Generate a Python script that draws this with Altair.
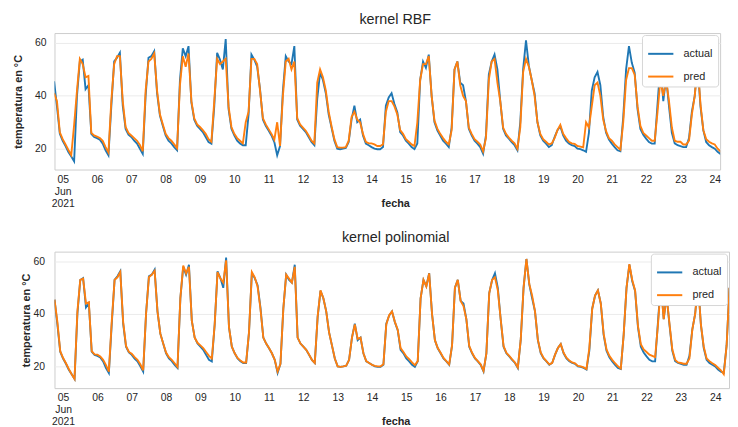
import altair as alt
import pandas as pd
from datetime import datetime, timezone, timedelta

# ---------------- data (every 2 hours from 2021-06-04 18:00 UTC) ----------------
ACTUAL = [
    45.5, 36, 25.6,                                                   # Jun 4 18-22h
    23, 21, 18.7, 17, 15.2, 40, 53, 53.7, 42.5, 44, 25.6, 24.4,        # Jun 5
    24, 23.4, 21.9, 19.4, 17.5, 36, 53, 54.4, 56.3, 36.3, 27.5, 25.3,  # Jun 6
    24.4, 23, 21.9, 20, 18, 40, 54.4, 55, 56.9, 41, 32.5, 28.7,        # Jun 7
    25, 23, 22, 20.6, 19.4, 46, 58, 55, 58.8, 37.5, 31, 28.7,          # Jun 8
    27.5, 26.3, 24.4, 22.5, 21.9, 36, 56.3, 53.7, 50, 61.5, 35, 27.5,  # Jun 9
    25, 23, 22, 21.3, 21.3, 33, 55.6, 53.7, 51, 42.5, 31, 28.7,        # Jun 10
    26.9, 25, 22.5, 17.5, 21, 42, 55, 53, 52, 58.8, 31, 28.7,          # Jun 11
    27.5, 26.3, 24.4, 22.5, 21.3, 38.8, 48.8, 46, 41, 33, 28, 23,      # Jun 12
    20, 19.8, 20, 20.3, 22.5, 31, 36.3, 30, 31, 25, 21.9, 21.3,        # Jun 13
    20.6, 20, 19.8, 19.8, 20.6, 36.3, 39.4, 41, 36.9, 33.8, 26.3, 25,  # Jun 14
    23, 21.9, 20.6, 19.8, 22, 46, 53, 50.6, 55.6, 40, 30, 26.9,        # Jun 15
    25, 23, 21.9, 20.6, 28, 50, 53, 45, 44, 38, 27.5, 25,              # Jun 16
    23, 21.9, 20.6, 18.1, 25, 48, 53, 55.6, 50, 38, 27.5, 25,          # Jun 17
    23.8, 22.5, 21.3, 19.4, 30, 50, 61, 51.3, 46, 41, 30, 25,          # Jun 18
    23, 21.9, 20.6, 21.3, 24.4, 27, 28.5, 25, 23, 22, 21.3, 21,        # Jun 19
    20, 19.8, 19.4, 18.8, 26, 42, 47, 49, 44, 32, 26, 23.5,            # Jun 20
    21.9, 20.6, 19.4, 19, 32, 50, 58.8, 52.5, 48.8, 35, 27.5, 25.3,    # Jun 21
    23.8, 22.5, 21.9, 21.9, 37, 52, 38, 47, 36, 26, 22, 21.3,          # Jun 22
    21, 20.6, 20.6, 24, 34, 40, 52, 36, 27, 22.5, 21.3, 20.6,          # Jun 23
    20, 18.8, 18, 17.5, 28, 50,                                        # Jun 24 0-10h
]

PRED_RBF = [
    41, 38, 26.2,
    23.6, 21.6, 19.5, 17.6, 29, 42, 54, 52, 47, 47.5, 26, 25,
    24.6, 24, 23, 20.6, 18.6, 38, 52, 55, 55, 38, 28.2, 26,
    25, 24, 23, 21.4, 19, 42, 53, 54, 56, 42, 33, 29.2,
    25.6, 24, 23, 21.6, 20.2, 44, 55, 51, 56, 38, 31.5, 29.2,
    28.2, 27, 25.6, 23.6, 22.6, 38, 54, 52, 53, 54, 36, 28.2,
    25.6, 24, 23, 22, 30, 34, 54, 54, 52, 42, 31.6, 29.2,
    27.4, 25.6, 23.4, 30, 21, 40, 53, 54, 50, 53, 31.6, 29.2,
    28, 26.8, 25, 23, 22, 45, 50, 47, 42, 34, 28.5, 23.6,
    20.6, 20.4, 20.4, 20.6, 23, 32, 34, 31, 30, 25.6, 22.6, 22,
    22, 21.6, 21, 21, 21.6, 34, 38, 38, 36, 33, 27, 25.6,
    23.6, 22.6, 21.6, 21, 30, 46, 52, 52, 55, 40, 30.6, 27.6,
    25.6, 24, 22.6, 21.6, 27, 50, 53, 44, 40, 38, 28, 25.6,
    23.6, 22.6, 21.6, 19, 24, 46, 53, 54, 45, 38, 28, 25.6,
    24.2, 23, 22, 20, 28, 49, 54, 51, 46, 40, 30, 25.6,
    23.6, 22.6, 21.6, 22, 24, 27, 29, 25.6, 24, 22.6, 22, 21.8,
    21, 20.8, 20.5, 30, 28, 36, 44, 45, 40, 31, 26.6, 24,
    23, 21.6, 20.6, 19.6, 30, 46, 50.5, 50.5, 48, 36, 28.6, 26,
    25, 24, 23, 23, 34, 46, 40, 46, 38, 28, 23, 22.6,
    22.6, 21.6, 21.6, 23, 33, 40, 52, 37, 27, 23.6, 22.6, 22,
    21.6, 20, 19, 18.6, 29, 45,
]

PRED_POLY = [
    45.5, 37, 25.8,
    23.2, 21.2, 19, 17, 15.2, 41, 53, 53.5, 44, 44.5, 25.8, 24.6,
    24.5, 23.8, 22.5, 20.5, 18, 37, 53, 54, 56, 37, 27.8, 25.5,
    24.8, 23.5, 22.5, 20.8, 18.5, 40, 54, 55, 56.5, 41, 32.5, 28.7,
    25.3, 23.5, 22.5, 21.2, 19.8, 46, 58.5, 55.5, 58, 37.5, 31, 29,
    28, 27, 25.5, 24, 23, 36, 56, 53.5, 52, 60.5, 35, 27.5,
    25, 23.2, 22.2, 21.5, 21.5, 33, 56, 54, 50.5, 42, 31, 28.7,
    27, 25, 22.5, 18, 21, 42, 55, 53.5, 52, 58, 31, 28.7,
    27.5, 26.3, 24.5, 22.5, 21.3, 39, 49, 46, 41, 33, 28, 23,
    20, 19.8, 20, 20.3, 22.5, 31, 36, 30.5, 31, 25, 22, 21.3,
    20.6, 20.2, 20, 20, 20.8, 36, 39.5, 41, 37, 34, 27, 25.5,
    23.8, 22.8, 21.5, 20.5, 22, 46, 53, 50.5, 55.5, 40, 30, 27,
    25.2, 23.2, 22, 20.8, 28, 50, 53, 45, 43, 38, 27.8, 25.2,
    23.2, 22, 20.8, 18.3, 25, 48, 53, 54, 49, 38, 27.8, 25.2,
    24, 22.7, 21.5, 19.6, 30, 50, 61, 51.5, 47, 41, 30.2, 25.3,
    23.2, 22, 20.8, 21.3, 24.5, 27, 28.5, 25.2, 23.3, 22.2, 21.5, 21.2,
    20.2, 20, 19.6, 19, 27, 42, 47, 49, 44, 32.5, 26.5, 24,
    22.5, 21.2, 20, 19.2, 32, 50, 59, 53, 49, 35.5, 28.5, 26.5,
    25.5, 24.5, 24, 23.5, 36, 51, 38, 47, 36.5, 26.5, 22.5, 21.5,
    21.3, 21, 21, 23, 34, 40, 52, 36, 27.5, 23, 22, 21.2,
    20.5, 19.5, 18.5, 17, 28, 50,
]

SERIES = ["actual", "pred"]
TITLES = ["kernel RBF", "kernel polinomial"]
DAY_LABELS = list(range(5, 25))          # tick days (June 2021)
Y_TICKS = [20, 40, 60]

# ---------------- styling ----------------
BLUE, ORANGE = "#1f77b4", "#ff7f0e"
TEXT = "#262626"
FONT = "Liberation Sans"

START = datetime(2021, 6, 4, 18, tzinfo=timezone.utc)
DAY_MS = 86400000.0
JUN5 = datetime(2021, 6, 5, tzinfo=timezone.utc).timestamp() * 1000
TIMES = [(START + timedelta(hours=2 * i)).timestamp() * 1000 for i in range(len(ACTUAL))]
TICKS = [JUN5 + (d - 5) * DAY_MS for d in DAY_LABELS]


def make_df(pred):
    rows = []
    for t, a in zip(TIMES, ACTUAL):
        rows.append({"t": t, "v": a, "serie": "actual"})
    for t, p in zip(TIMES, pred):
        rows.append({"t": t, "v": p, "serie": "pred"})
    return pd.DataFrame(rows)


def panel(title, pred, width, d0, d1, ydom, label_pad, title_pad, title_dx):
    df = make_df(pred)
    base = alt.Chart(df).encode(
        x=alt.X(
            "t:Q",
            scale=alt.Scale(domain=[JUN5 + d0 * DAY_MS, JUN5 + d1 * DAY_MS], nice=False, zero=False),
            axis=alt.Axis(
                values=TICKS,
                labelExpr="utcdate(datum.value) == 5 ? ['05', 'Jun', '2021'] : utcFormat(datum.value, '%d')",
                title="fecha",
                titleY=34,
                titleX=width / 2 + title_dx,
                titleBaseline="middle",
                grid=False,
                ticks=False,
                domain=False,
                labelOverlap=False,
                labelFlush=False,
                labelPadding=5,
                labelLineHeight=12,
                labelBaseline="top",
            ),
        ),
        y=alt.Y(
            "v:Q",
            scale=alt.Scale(domain=ydom, nice=False, zero=False),
            axis=alt.Axis(
                values=Y_TICKS,
                title="temperatura en °C",
                grid=True,
                ticks=False,
                domain=False,
                labelPadding=label_pad,
                titlePadding=title_pad,
            ),
        ),
        color=alt.Color(
            "serie:N",
            scale=alt.Scale(domain=SERIES, range=[BLUE, ORANGE]),
            legend=alt.Legend(
                title=None,
                orient="top-right",
                offset=2,
                padding=5,
                fillColor="white",
                strokeColor="#d6d6d6",
                cornerRadius=3,
                symbolType="stroke",
                symbolStrokeWidth=2,
                symbolSize=650,
                labelFontSize=11,
                labelColor=TEXT,
                labelOffset=9,
                rowPadding=4,
            ),
        ),
    )
    layers = [
        base.transform_filter(f"datum.serie == '{s}'").mark_line(strokeWidth=1.9, clip=True)
        for s in SERIES
    ]
    return alt.layer(*layers).properties(
        width=width,
        height=138,
        title=alt.TitleParams(title, fontSize=14.5, fontWeight="normal", color=TEXT,
                              offset=6, dx=title_dx),
    )


top = panel(TITLES[0], PRED_RBF, 673, -0.239, 19.156, [12.1, 63.75], 8.5, 11, 8)
bottom = panel(TITLES[1], PRED_POLY, 682, -0.251, 19.403, [11.7, 63.8], 10, 2, 4)

chart = (
    alt.ConcatChart(concat=[top, bottom], columns=1, spacing=21, align="none")
    .resolve_scale(color="independent")
    .resolve_legend(color="independent")
    .properties(padding={"left": 4, "top": 1, "right": 0, "bottom": 0})
    .configure(font=FONT)
    .configure_view(stroke="#cccccc", strokeWidth=1)
    .configure_axis(
        labelFontSize=10.5,
        titleFontSize=11,
        titleFontWeight="bold",
        labelColor=TEXT,
        titleColor=TEXT,
        gridColor="#ebebeb",
        gridWidth=1,
    )
)

chart.save("out.html", embed_options={"renderer": "svg", "actions": False})
